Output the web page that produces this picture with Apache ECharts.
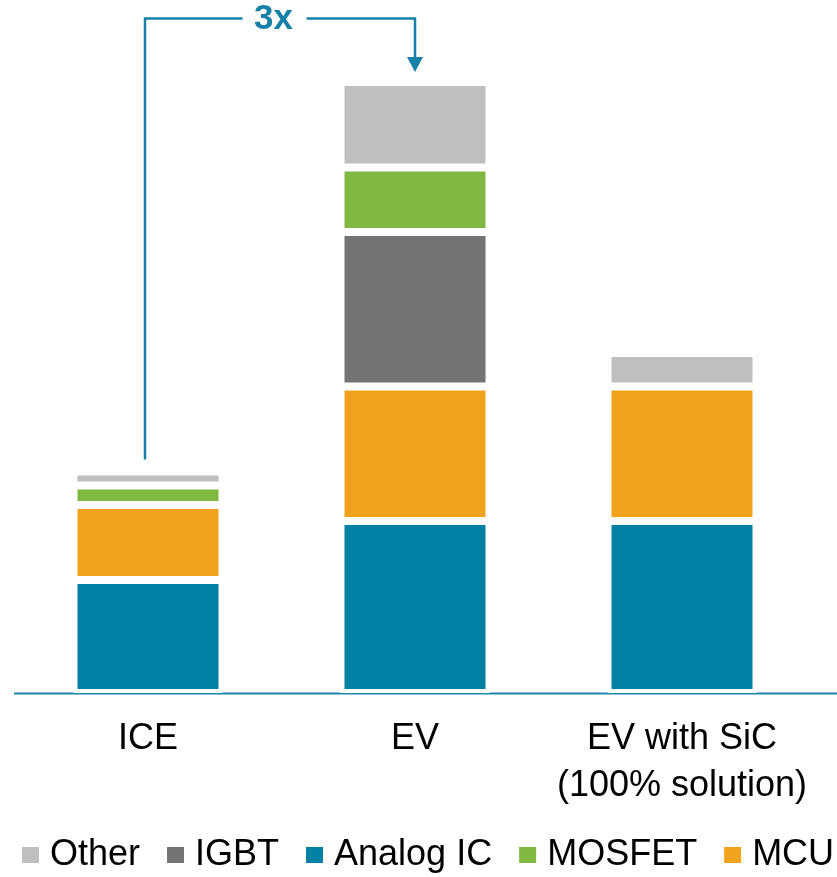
<!DOCTYPE html>
<html>
<head>
<meta charset="utf-8">
<script src="https://cdn.jsdelivr.net/npm/echarts@6/dist/echarts.min.js"></script>
<style>
html,body{margin:0;padding:0;background:#fff;}
#chart{width:837px;height:877px;}
</style>
</head>
<body>
<div id="chart"></div>
<script>
const categories = ['ICE', 'EV', 'EV with SiC\n(100% solution)'];
const analogIC = [113, 172, 172];
const mcu = [75, 134.5, 134.5];
const igbt = ['-', 154.5, '-'];
const mosfet = [19.5, 64.5, '-'];
const other = [14, 85.5, 33.5];
const legendOrder = ['Other', 'IGBT', 'Analog IC', 'MOSFET', 'MCU'];
const annotationText = '3x';

const FONT = "'Liberation Sans', Arial, sans-serif";
const TEAL = '#1581a6';
const colors = {
  'Analog IC': '#0080a3',
  'MCU': '#f1a31e',
  'IGBT': '#737373',
  'MOSFET': '#80b842',
  'Other': '#bfbfbf'
};

function barSeries(name, data) {
  return {
    name: name,
    type: 'bar',
    stack: 'total',
    data: data,
    barWidth: 149,
    itemStyle: { color: colors[name], borderColor: '#ffffff', borderWidth: 4 },
    emphasis: { disabled: true }
  };
}

const chart = echarts.init(document.getElementById('chart'), null, { renderer: 'canvas' });
chart.setOption({
  animation: false,
  backgroundColor: '#ffffff',
  grid: { left: 14.5, right: 21.5, top: 43, bottom: 184 },
  xAxis: {
    type: 'category',
    data: categories,
    axisLine: { show: false },
    axisTick: { show: false },
    axisLabel: {
      color: '#000',
      fontFamily: FONT,
      fontSize: 36,
      lineHeight: 47,
      margin: 23,
      interval: 0
    }
  },
  yAxis: { type: 'value', min: 0, max: 650, show: false, splitLine: { show: false } },
  legend: {
    data: legendOrder,
    left: 20,
    top: 837,
    width: 837,
    padding: 0,
    itemGap: 25,
    itemWidth: 19,
    itemHeight: 18,
    icon: 'rect',
    selectedMode: false,
    textStyle: { color: '#000', fontFamily: FONT, fontSize: 36, padding: [0, 0, 0, 5] }
  },
  series: [
    barSeries('Analog IC', analogIC),
    barSeries('MCU', mcu),
    barSeries('IGBT', igbt),
    barSeries('MOSFET', mosfet),
    barSeries('Other', other)
  ]
});

function total(i) {
  return [analogIC, mcu, igbt, mosfet, other].reduce(function (s, arr) {
    const v = arr[i];
    return s + (typeof v === 'number' ? v : 0);
  }, 0);
}
const finder = { xAxisIndex: 0, yAxisIndex: 0 };
const p0 = chart.convertToPixel(finder, [0, total(0)]);
const p1 = chart.convertToPixel(finder, [1, total(1)]);
const base = chart.convertToPixel(finder, [0, 0]);
const xL = p0[0] - 3;
const xR = p1[0];
const topY = p1[1] - 63.5;
const tipY = p1[1] - 10;
const textX = p0[0] + (p1[0] - p0[0]) * 0.47;

chart.setOption({
  graphic: [
    { type: 'line', silent: true,
      shape: { x1: 14, y1: base[1] + 0.5, x2: 837, y2: base[1] + 0.5 },
      style: { stroke: '#1a87ab', lineWidth: 2 } },
    { type: 'polyline', silent: true,
      shape: { points: [[xL, p0[1] - 12], [xL, topY], [textX - 31, topY]] },
      style: { stroke: TEAL, lineWidth: 2.5, fill: null } },
    { type: 'polyline', silent: true,
      shape: { points: [[textX + 33, topY], [xR, topY], [xR, tipY - 14]] },
      style: { stroke: TEAL, lineWidth: 2.5, fill: null } },
    { type: 'polygon', silent: true,
      shape: { points: [[xR - 8, tipY - 15], [xR + 8, tipY - 15], [xR, tipY]] },
      style: { fill: TEAL } },
    { type: 'text', silent: true, x: textX, y: topY + 1,
      style: { text: annotationText, fill: TEAL, font: "bold 35px 'Liberation Sans', Arial, sans-serif",
               align: 'center', verticalAlign: 'middle' } }
  ]
});
</script>
</body>
</html>
